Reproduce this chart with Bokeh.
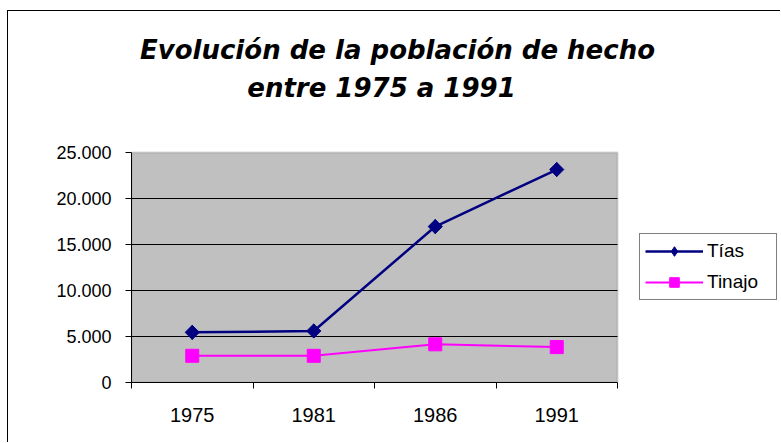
from bokeh.plotting import figure
from bokeh.models import (Range1d, FixedTicker, Legend, LegendItem, Label, BoxAnnotation)
from bokeh.embed import file_html
from bokeh.resources import INLINE

# ---- data ----
TITLE_LINE_1 = "Evolución de la población de hecho"
TITLE_LINE_2 = "entre 1975 a 1991"
CATEGORIES = ["1975", "1981", "1986", "1991"]
TIAS = [5450, 5600, 16950, 23150]
TINAJO = [2900, 2900, 4150, 3850]
SERIES_NAMES = ["Tías", "Tinajo"]
Y_TICKS = [0, 5000, 10000, 15000, 20000, 25000]
Y_TICK_LABELS = ["0", "5.000", "10.000", "15.000", "20.000", "25.000"]

FONT = "Liberation Sans"
TITLE_FONT = "DejaVu Sans"

# ---- layout (pixels) ----
W, H = 773, 432
LEFT, BOTTOM = 123, 61
AREA_W, AREA_H = 486, 230          # grey plot area in pixels
FRAME_W, FRAME_H = W - LEFT, H - BOTTOM

n = len(CATEGORIES)
xs = [i + 0.5 for i in range(n)]
x_end = n * FRAME_W / AREA_W
y_end = Y_TICKS[-1] * FRAME_H / AREA_H

p = figure(width=W, height=H, x_range=Range1d(0, x_end), y_range=Range1d(Y_TICKS[0], y_end),
           toolbar_location=None, output_backend="svg",
           min_border_left=LEFT, min_border_right=0, min_border_top=0,
           min_border_bottom=BOTTOM)
p.background_fill_color = "white"
p.border_fill_color = "white"
p.outline_line_color = None
p.xgrid.visible = False
p.ygrid.visible = False

# grey plot area with grey border
p.add_layout(BoxAnnotation(left=0, right=n, bottom=Y_TICKS[0], top=Y_TICKS[-1],
                           fill_color="#C0C0C0", fill_alpha=1,
                           line_color="#808080", line_width=2, level="underlay"))
# horizontal gridlines at the inner ticks
inner = Y_TICKS[1:-1]
p.segment(x0=[0] * len(inner), x1=[n] * len(inner), y0=inner, y1=inner,
          line_color="black", line_width=1)

# y axis
p.yaxis.bounds = (Y_TICKS[0], Y_TICKS[-1])
p.yaxis.ticker = FixedTicker(ticks=Y_TICKS)
p.yaxis.major_label_overrides = dict(zip(Y_TICKS, Y_TICK_LABELS))
p.yaxis.axis_line_color = "black"
p.yaxis.major_tick_out = 6
p.yaxis.major_tick_in = 0
p.yaxis.minor_tick_line_color = None
p.yaxis.major_label_standoff = 14
p.yaxis.major_label_text_font = FONT
p.yaxis.major_label_text_font_size = "18px"
p.yaxis.major_label_text_color = "black"

# x axis
p.xaxis.bounds = (0, n)
p.xaxis.ticker = FixedTicker(ticks=xs, minor_ticks=list(range(n + 1)))
p.xaxis.major_label_overrides = dict(zip(xs, CATEGORIES))
p.xaxis.axis_line_color = "black"
p.xaxis.major_tick_line_color = None
p.xaxis.major_tick_out = 0
p.xaxis.major_tick_in = 0
p.xaxis.minor_tick_out = 6
p.xaxis.minor_tick_in = 0
p.xaxis.minor_tick_line_color = "black"
p.xaxis.major_label_standoff = 19
p.xaxis.major_label_text_font = FONT
p.xaxis.major_label_text_font_size = "20px"
p.xaxis.major_label_text_color = "black"

# series
NAVY, MAGENTA = "#000080", "#FF00FF"
l1 = p.line(xs, TIAS, line_color=NAVY, line_width=2.5)
# diamond symbol (used for the legend key; hidden under the rotated squares on the chart)
s1_key = p.scatter(xs, TIAS, marker="diamond", size=14,
                   fill_color=NAVY, line_color=NAVY)
s1 = p.scatter(xs, TIAS, marker="square", angle=0.785398, size=10,
               fill_color=NAVY, line_color=NAVY)
l2 = p.line(xs, TINAJO, line_color=MAGENTA, line_width=2)
s2 = p.scatter(xs, TINAJO, marker="square", size=13,
               fill_color=MAGENTA, line_color=MAGENTA)

legend = Legend(items=[LegendItem(label=SERIES_NAMES[0], renderers=[l1, s1_key]),
                       LegendItem(label=SERIES_NAMES[1], renderers=[l2, s2])],
                location=(508, 82))
legend.border_line_color = "black"
legend.border_line_width = 1
legend.background_fill_color = "white"
legend.background_fill_alpha = 1
legend.padding = 5
legend.margin = 0
legend.spacing = 7
legend.glyph_width = 58
legend.glyph_height = 24
legend.label_standoff = 4
legend.label_width = 64
legend.label_text_font = FONT
legend.label_text_font_size = "19px"
legend.label_text_color = "black"
p.add_layout(legend, "center")

# title (two centred lines)
for txt, tx, ty in [(TITLE_LINE_1, 266, 333), (TITLE_LINE_2, 250, 295)]:
    p.add_layout(Label(x=tx, y=ty, x_units="screen", y_units="screen", text=txt,
                       text_align="center", text_baseline="alphabetic",
                       text_font=TITLE_FONT, text_font_size="26px",
                       text_font_style="bold italic", text_color="black"))

p.styles = {"margin-top": "10px", "margin-left": "7px",
            "border-left": "1px solid black", "border-top": "1px solid black"}

open("out.html", "w").write(file_html(p, INLINE))
